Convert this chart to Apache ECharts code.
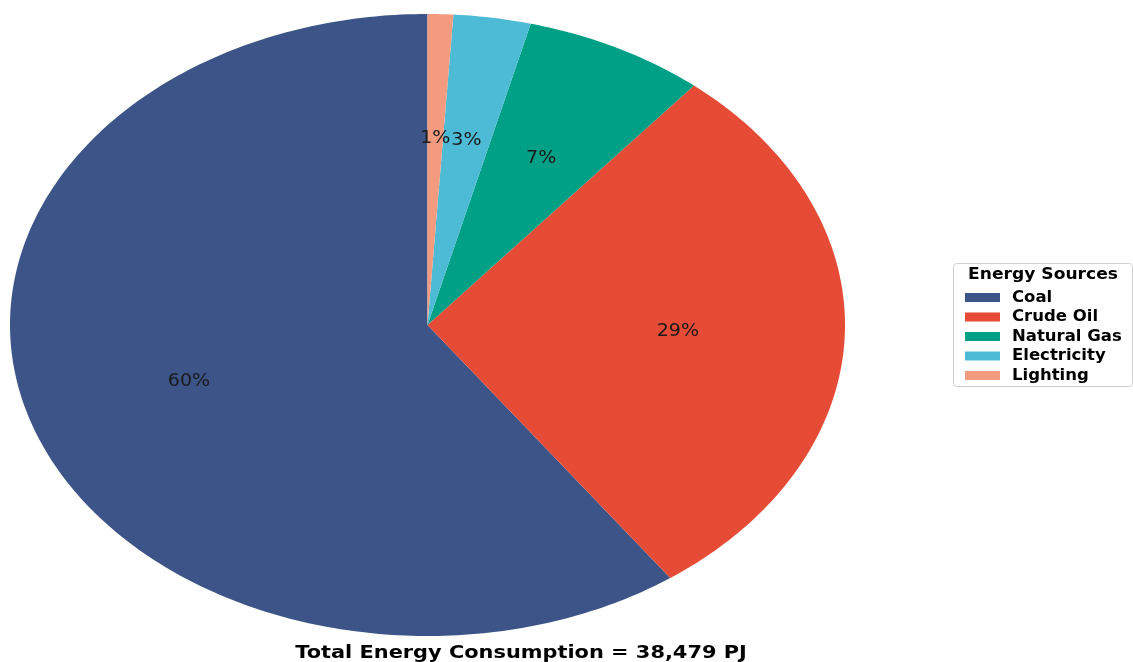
<!DOCTYPE html>
<html>
<head>
<meta charset="utf-8">
<script src="https://cdn.jsdelivr.net/npm/echarts@6/dist/echarts.min.js"></script>
<style>
html,body{margin:0;padding:0;background:#fff;}
#chart{width:1133px;height:662px;}
</style>
</head>
<body>
<div id="chart"></div>
<script>
// ---- data ----
const sources = ['Coal', 'Crude Oil', 'Natural Gas', 'Electricity', 'Lighting'];
const valuesPJ = [23039, 11200, 2710, 1150, 380];
const legendTitle = 'Energy Sources';
const unit = 'PJ';

// ---- style ----
const colors = ['#3C5488', '#E64B35', '#00A087', '#4DBBD5', '#F39B7F'];
const FONT = '"DejaVu Sans", sans-serif';

const total = valuesPJ.reduce((a, b) => a + b, 0);
const fracs = [];
let acc = 0;
valuesPJ.forEach(v => { fracs.push([acc, acc + v / total]); acc += v / total; });

function ang(f) { return Math.PI / 2 + 2 * Math.PI * f; }

function wedgeRender(params, api) {
  const f0 = api.value(0), f1 = api.value(1);
  const pts = [api.coord([0, 0])];
  const n = Math.max(8, Math.ceil((f1 - f0) * 400));
  for (let k = 0; k <= n; k++) {
    const a = ang(f0 + (f1 - f0) * k / n);
    pts.push(api.coord([Math.cos(a), Math.sin(a)]));
  }
  return {
    type: 'polygon',
    shape: { points: pts },
    style: { fill: api.visual('color'), stroke: null }
  };
}

function labelRender(params, api) {
  const f0 = api.value(0), f1 = api.value(1);
  const a = ang((f0 + f1) / 2);
  const p = api.coord([0.6 * Math.cos(a), 0.6 * Math.sin(a)]);
  const pct = Math.round((f1 - f0) * 100) + '%';
  return {
    type: 'text',
    x: p[0], y: p[1],
    scaleX: 1.12,
    style: {
      text: pct, x: 0, y: 0,
      align: 'center', verticalAlign: 'middle',
      font: '17px ' + FONT, fill: '#1a1a1a'
    }
  };
}

const series = sources.map((name, i) => ({
  type: 'custom',
  name: name,
  coordinateSystem: 'cartesian2d',
  renderItem: wedgeRender,
  itemStyle: { color: colors[i] },
  data: [[fracs[i][0], fracs[i][1]]],
  clip: false,
  silent: true,
  z: 2
}));
series.push({
  type: 'custom',
  name: '_labels',
  coordinateSystem: 'cartesian2d',
  renderItem: labelRender,
  data: fracs.map(f => [f[0], f[1]]),
  clip: false,
  silent: true,
  z: 5
});

const chart = echarts.init(document.getElementById('chart'));
chart.setOption({
  animation: false,
  backgroundColor: '#fff',
  grid: { left: 10, top: 14, width: 835, height: 622, containLabel: false },
  xAxis: { type: 'value', min: -1, max: 1, show: false },
  yAxis: { type: 'value', min: -1, max: 1, show: false },
  legend: {
    data: sources,
    orient: 'vertical',
    left: 960, top: 284,
    itemWidth: 35, itemHeight: 9, itemGap: 2.5,
    icon: 'rect',
    textStyle: { fontFamily: FONT, fontSize: 16.5, fontWeight: 'bold', color: '#000', lineHeight: 16, padding: [0, 0, 0, 7] }
  },
  graphic: [
    { type: 'rect', left: 953, top: 263, shape: { width: 179, height: 123, r: 3 },
      style: { fill: '#fff', stroke: '#d0d0d0', lineWidth: 1 }, z: -1 },
    { type: 'text', x: 1043, y: 275, scaleX: 1.14,
      style: { text: legendTitle, align: 'center', verticalAlign: 'middle', font: 'bold 15px ' + FONT, fill: '#000' } },
    { type: 'text', x: 521, y: 653, scaleX: 1.16,
      style: { text: 'Total Energy Consumption = ' + total.toLocaleString('en-US') + ' ' + unit,
        align: 'center', verticalAlign: 'middle', font: 'bold 18px ' + FONT, fill: '#000' } }
  ],
  series: series
});
</script>
</body>
</html>
